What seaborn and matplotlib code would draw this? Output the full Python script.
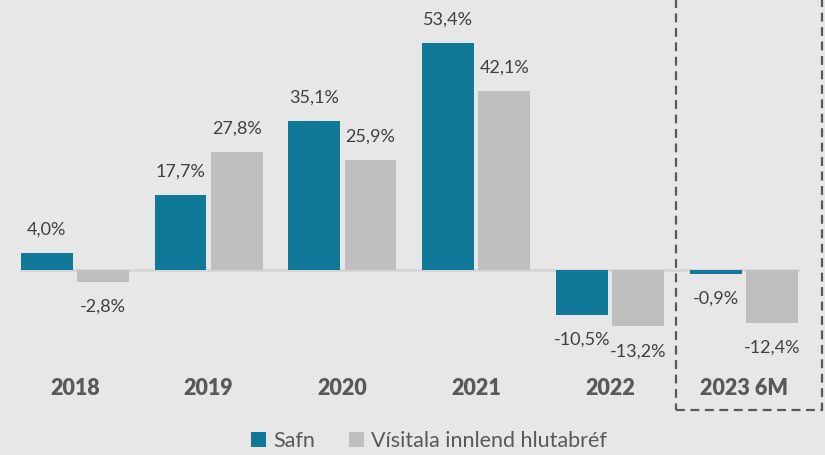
import pandas as pd
import matplotlib.pyplot as plt
import seaborn as sns
from matplotlib.patches import Rectangle, Patch

# Data
years = ['2018', '2019', '2020', '2021', '2022', '2023 6M']
safn = [4.0, 17.7, 35.1, 53.4, -10.5, -0.9]
visitala = [-2.8, 27.8, 25.9, 42.1, -13.2, -12.4]
series = ['Safn', 'Vísitala innlend hlutabréf']
colors = ['#10799a', '#bfbfbf']

df = pd.DataFrame({
    'Ár': years * 2,
    'Röð': [series[0]] * len(years) + [series[1]] * len(years),
    'Ávöxtun': safn + visitala,
})

sns.set_style('white')
plt.rcParams['font.family'] = ['Lato', 'DejaVu Sans']
bg = '#e7e7e7'

fig = plt.figure(figsize=(8.25, 4.55), dpi=100, facecolor=bg)
ax = fig.add_axes([20 / 825, 0, 780 / 825, 1])
ax.set_facecolor(bg)

sns.barplot(data=df, x='Ár', y='Ávöxtun', hue='Röð', palette=colors,
            width=0.84, gap=0.08, saturation=1, legend=False, ax=ax,
            linewidth=0, edgecolor='none', zorder=2)

ax.set_xlim(-0.41, 5.42)
ax.set_ylim(-43.5, 63.5)
ax.axhline(0, color='#d4d4d4', lw=1.8, zorder=1)

# Value labels
for container in ax.containers:
    for bar in container:
        v = bar.get_height()
        xc = bar.get_x() + bar.get_width() / 2
        off = 17 if v >= 0 else -18
        ax.annotate(f'{v:.1f}%'.replace('.', ','), (xc, v), xytext=(0, off),
                    textcoords='offset points', ha='center', va='center',
                    fontsize=13, color='#404040')

# Category labels
for i, yr in enumerate(years):
    ax.text(i, -27.8, yr, ha='center', va='center', fontsize=15.5,
            fontweight='heavy', color='#595959')

ax.set_xticks([])
ax.set_yticks([])
ax.set_xlabel('')
ax.set_ylabel('')
sns.despine(ax=ax, left=True, bottom=True)

# Dashed box around 2023 6M
fig.patches.append(Rectangle((676 / 825, 1 - 410 / 455), 146 / 825, 0.95,
                             transform=fig.transFigure, fill=False,
                             edgecolor='#595959', lw=1.6, ls=(0, (4, 2.5))))

handles = [Patch(facecolor=c, edgecolor='none') for c in colors]
fig.legend(handles, series, loc='center', bbox_to_anchor=(0.52, 1 - 441 / 455),
           ncol=2, frameon=False, fontsize=15.5, labelcolor='#595959',
           handlelength=0.7, handleheight=0.7, handletextpad=0.3,
           columnspacing=1.6)

fig.savefig('out.png', dpi=100, facecolor=bg)
